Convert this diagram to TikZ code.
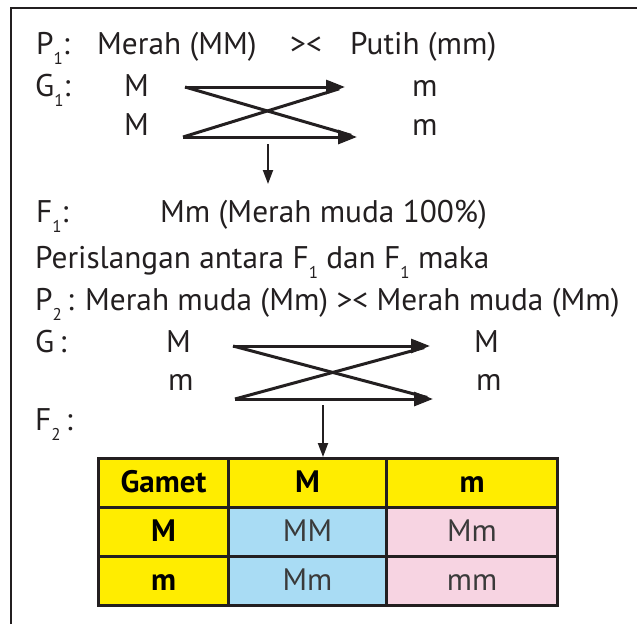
\documentclass[tikz,border=0pt]{standalone}
\usepackage{fontspec}
\setmainfont{PT Sans}
\usetikzlibrary{arrows.meta}
\definecolor{ink}{HTML}{231F20}
\definecolor{cellink}{HTML}{3A3A3A}
\definecolor{cellyellow}{HTML}{FFED00}
\definecolor{cellblue}{HTML}{A9DCF4}
\definecolor{cellpink}{HTML}{F7D4E2}
% lowered index digit, as in P1, G1, F1
\newcommand\lowidx[1]{\raisebox{-0.33em}{\fontsize{17}{17}\selectfont #1}}

\begin{document}
\begin{tikzpicture}[x=1pt,y=-1pt,
  txt/.style={anchor=base west, inner sep=0pt, font=\fontsize{31.3}{35}\selectfont, text=ink},
  gametarrow/.style={line width=3pt, draw=ink, -{Triangle[length=19pt,width=14pt]}},
  gametline/.style={line width=3pt, draw=ink, shorten >=6pt},
  downarrow/.style={line width=2pt, draw=ink, -{Triangle[length=14pt,width=10pt]}},
  cell/.style={draw=ink, line width=3pt, minimum height=49pt, inner sep=0pt,
    text height=21pt, text depth=2pt,
    anchor=north west, font=\fontsize{31}{35}\selectfont, text=cellink},
  headcell/.style={cell, fill=cellyellow, text=black, font=\fontsize{31}{35}\selectfont\bfseries},
 ]
\useasboundingbox (0,0) rectangle (637,624);
\fill[white] (0,0) rectangle (637,624);
% frame
\draw[line width=2.6pt, ink] (11,624) -- (11,8) -- (637,8);

% parental cross P1
\node[txt] (p1) at (36,54) {P\lowidx{1}:};
\node[txt] (p1a) at (97,54) {Merah (MM)};
\node[txt] (p1x) at (290,54) {><};
\node[txt] (p1b) at (350,54) {Putih (mm)};

% gametes G1
\node[txt] (g1) at (35,96) {G\lowidx{1}:};
\node[txt] (g1a) at (124,96) {M};
\node[txt] (g1b) at (124,135) {M};
\node[txt] (g1c) at (412,96) {m};
\node[txt] (g1d) at (412,135) {m};
\coordinate (u1s) at (185,87);
\coordinate (u1e) at (345,87);
\coordinate (l1s) at (183,137);
\coordinate (l1e) at (357,137);
\draw[gametarrow] (u1s) -- (u1e);
\draw[gametarrow] (l1s) -- (l1e);
\draw[gametline] (u1s) -- (l1e);
\draw[gametline] (l1s) -- (u1e);
\coordinate (d1s) at (268,144);
\coordinate (d1e) at (268,184);
\draw[downarrow] (d1s) -- (d1e);

% F1
\node[txt] (f1) at (36,222) {F\lowidx{1}:};
\node[txt] (f1a) at (160,222) {Mm (Merah muda 100\%)};

\node[txt] (cross) at (35,268) {Perislangan antara F\lowidx{1} dan F\lowidx{1} maka};
\node[txt] (p2) at (35,310) {P\lowidx{2}\,: Merah muda (Mm) >< Merah muda (Mm)};

% gametes G
\node[txt] (g2) at (35,352) {G\,:};
\node[txt] (g2a) at (166,352) {M};
\node[txt] (g2b) at (168,390) {m};
\node[txt] (g2c) at (474,352) {M};
\node[txt] (g2d) at (476,390) {m};
\coordinate (u2s) at (233,346);
\coordinate (u2e) at (430,346);
\coordinate (l2s) at (235,399);
\coordinate (l2e) at (433,399);
\draw[gametarrow] (u2s) -- (u2e);
\draw[gametarrow] (l2s) -- (l2e);
\draw[gametline] (u2s) -- (l2e);
\draw[gametline] (l2s) -- (u2e);

\node[txt] (f2) at (35,430) {F\lowidx{2}\,:};

% Punnett square
\node[headcell, minimum width=130pt] (t11) at (97,457) {Gamet};
\node[headcell, minimum width=158pt] (t12) at (227,457) {M};
\node[headcell, minimum width=171pt] (t13) at (385,457) {m};
\node[headcell, minimum width=130pt] (t21) at (97,506) {M};
\node[cell, fill=cellblue, minimum width=158pt] (t22) at (227,506) {MM};
\node[cell, fill=cellpink, minimum width=171pt] (t23) at (385,506) {Mm};
\node[headcell, minimum width=130pt] (t31) at (97,555) {m};
\node[cell, fill=cellblue, minimum width=158pt] (t32) at (227,555) {Mm};
\node[cell, fill=cellpink, minimum width=171pt] (t33) at (385,555) {mm};

\coordinate (d2s) at (323,405);
\coordinate (d2e) at (323,457);
\draw[downarrow] (d2s) -- (d2e);
\end{tikzpicture}
\end{document}
